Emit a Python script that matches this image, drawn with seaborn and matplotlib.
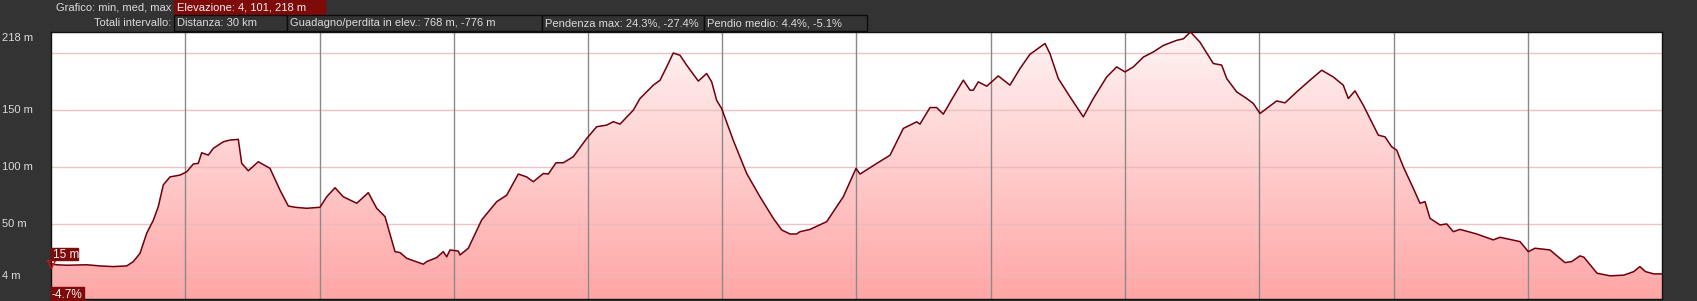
import numpy as np
import matplotlib
matplotlib.use("Agg")
import matplotlib.pyplot as plt
import matplotlib.transforms as mtransforms
from matplotlib.patches import Rectangle
from matplotlib.colors import LinearSegmentedColormap
import seaborn as sns

# ---------------- data ----------------
distance_km = [0.0, 0.106, 0.292, 0.665, 0.912, 1.155, 1.41, 1.533, 1.657, 1.782, 1.905, 1.998,
               2.091, 2.216, 2.402, 2.527, 2.65, 2.743, 2.806, 2.929, 3.022, 3.209, 3.333, 3.488,
               3.551, 3.674, 3.86, 4.078, 4.264, 4.419, 4.544, 4.762, 5.009, 5.134, 5.289, 5.443,
               5.629, 5.693, 5.909, 6.065, 6.22, 6.406, 6.499, 6.624, 6.933, 6.996, 7.182, 7.305,
               7.369, 7.43, 7.585, 7.616, 7.771, 8.02, 8.3, 8.486, 8.702, 8.858, 8.981, 9.168,
               9.261, 9.404, 9.54, 9.726, 9.976, 10.162, 10.348, 10.471, 10.596, 10.844, 10.968,
               11.216, 11.341, 11.465, 11.588, 11.713, 11.838, 12.054, 12.21, 12.303, 12.397,
               12.49, 12.706, 12.955, 13.203, 13.451, 13.607, 13.762, 13.886, 13.948, 14.134,
               14.445, 14.754, 14.991, 15.065, 15.376, 15.624, 15.872, 16.121, 16.182, 16.369,
               16.493, 16.616, 16.803, 16.989, 17.114, 17.175, 17.268, 17.425, 17.641, 17.858,
               18.045, 18.231, 18.51, 18.603, 18.758, 18.976, 19.223, 19.41, 19.659, 19.845,
               20.0, 20.155, 20.341, 20.527, 20.713, 20.963, 21.086, 21.22, 21.397, 21.644,
               21.801, 21.894, 22.08, 22.266, 22.389, 22.514, 22.825, 22.98, 23.197, 23.445,
               23.663, 23.879, 24.065, 24.158, 24.283, 24.438, 24.717, 24.842, 24.966, 25.059,
               25.182, 25.369, 25.493, 25.587, 25.68, 25.866, 25.991, 26.114, 26.238, 26.549,
               26.858, 26.983, 27.356, 27.51, 27.635, 27.914, 28.194, 28.318, 28.473, 28.547,
               28.79, 29.035, 29.287, 29.473, 29.587, 29.693, 29.848, 30.0]
elevation_m = [15, 14, 13.6, 14, 13, 12.4, 13, 16.8, 24, 41.6, 53, 65,
               84, 91, 92.6, 95.5, 102.3, 102.9, 112.2, 110.1, 116, 121.8, 123.3, 123.9,
               102.9, 96.4, 104.3, 98.5, 79.5, 65.5, 64.4, 63.5, 64.4, 73.6, 81.5, 73.6,
               69.3, 67.9, 77.2, 63.5, 56.2, 25.5, 24.7, 19.7, 14.5, 16.8, 20.3, 25.5,
               21, 27, 26, 22.6, 28.5, 53.3, 69.3, 75, 93.5, 91, 86.8, 94,
               93.5, 103.4, 103.4, 108.7, 124.7, 135, 136.4, 139.4, 137.3, 149.5, 159.7,
               171.4, 175.7, 187.4, 199.6, 197.6, 188.9, 175, 181.6, 174.3, 158,
               150.8, 123, 94, 73.6, 54.7, 44.5, 41, 41, 43, 45,
               51.8, 73.6, 98.5, 93.5, 102.8, 110, 133.5, 139.3, 137.3, 151.8,
               151.8, 146, 161.2, 175.8, 167, 167, 174.3, 170.5, 179.5, 171.4,
               186, 198.5, 207.9, 199, 177.2, 161.2, 143.6, 159.7, 178.6, 187.4,
               183, 187.4, 196, 200.5, 206.2, 210.7, 212, 218, 209, 190.4,
               189, 177.2, 165.5, 159.7, 155.4, 146.6, 157.6, 155.9, 165.5, 175.8,
               184.5, 178.6, 171.4, 159.7, 166.4, 153.8, 127.6, 126.1, 117.4, 114.5,
               99.9, 81, 67.9, 69.3, 54.7, 48.9, 49.8, 43, 45, 41,
               35.8, 38.1, 34.3, 25.5, 28.5, 27, 15.9, 16.8, 21.8, 20.6,
               6.6, 4.3, 4.9, 8, 12.4, 8, 6, 6]

ytick_values = [4, 50, 100, 150]
ytick_labels = ["4 m", "50 m", "100 m", "150 m"]
top_value = 218
top_label = "218 m"
grid_y = [4, 50, 100, 150, 200]
grid_x = [2.5, 5, 7.5, 10, 12.5, 15, 17.5, 20, 22.5, 25, 27.5]

row1_label = "Grafico: min, med, max"
row1_box = "Elevazione: 4, 101, 218 m"
row2_label = "Totali intervallo:"
row2_boxes = ["Distanza: 30 km", "Guadagno/perdita in elev.: 768 m, -776 m",
              "Pendenza max: 24.3%, -27.4%", "Pendio medio: 4.4%, -5.1%"]
start_label = "15 m"
slope_label = "-4.7%"

# ---------------- style ----------------
W, H = 1697, 301
BG = "#333333"
TXT = "#dcdcdc"
DARKRED = "#7e0a0a"
LINE = "#6e000c"

sns.set_style("white")
plt.rcParams["font.family"] = ["Liberation Sans", "DejaVu Sans"]

fig = plt.figure(figsize=(W / 100, H / 100), dpi=100, facecolor=BG)


def fx(x):
    return x / W


def fy(y):
    return 1 - y / H


ax = fig.add_axes([fx(51), fy(299), (1662 - 51) / W, (299 - 32) / H])
ax.set_xlim(0, 30)
ax.set_ylim(-16, 218)
ax.set_facecolor("white")

# gradient area under the profile
poly = ax.fill_between(distance_km, elevation_m, -16, color="none", lw=0)
grad = np.linspace(0, 1, 256).reshape(-1, 1)
cmap = LinearSegmentedColormap.from_list("g", ["#ffa6a6", "#fff4f4"])
im = ax.imshow(grad, extent=[0, 30, -16, 218], origin="lower", aspect="auto",
               cmap=cmap, zorder=1, interpolation="bilinear")
im.set_clip_path(poly.get_paths()[0], transform=ax.transData)

for v in grid_y:
    ax.axhline(v, color="#eab9b9", lw=1, alpha=0.85, zorder=2)
for v in grid_x:
    ax.axvline(v, color="#8a8a8a", lw=1, zorder=2)

sns.lineplot(x=distance_km, y=elevation_m, ax=ax, color=LINE, lw=1.1, zorder=3)

ax.set_xticks([])
ax.set_yticks([])
ax.set_xlabel("")
ax.set_ylabel("")
for s in ax.spines.values():
    s.set_color("#111111")
    s.set_linewidth(1)

# y labels
tr = mtransforms.blended_transform_factory(fig.transFigure, ax.transData)
for v, lab in zip(ytick_values, ytick_labels):
    ax.text(fx(2), v, lab, transform=tr, ha="left", va="center",
            color=TXT, fontsize=8, clip_on=False)
ax.text(fx(2), top_value - 1, top_label, transform=tr, ha="left", va="top",
        color=TXT, fontsize=8, clip_on=False)

# start marker and labels inside plot
ax.plot([distance_km[0]], [elevation_m[0]], marker="v", ms=6, mfc="none",
        mec="#d01010", mew=1, clip_on=False, zorder=5)


def boxed(x0, y0, x1, y1, text, face, edge=None, fs=8, tcol="#f0f0f0", pad=3, zorder=6):
    r = Rectangle((fx(x0), fy(y1)), fx(x1) - fx(x0), (y1 - y0) / H,
                  transform=fig.transFigure, facecolor=face,
                  edgecolor=edge if edge else face, lw=1, zorder=zorder)
    fig.add_artist(r)
    fig.text(fx(x0 + pad), fy((y0 + y1) / 2 + 0.5), text, ha="left", va="center",
             color=tcol, fontsize=fs, zorder=zorder + 1)


boxed(51, 248, 78, 260, start_label, DARKRED, fs=8.5, pad=2)
boxed(51, 287, 84, 301, slope_label, DARKRED, fs=8.5, pad=1)

# header
fig.text(fx(171), fy(7), row1_label, ha="right", va="center", color=TXT, fontsize=8)
boxed(174, 0, 325, 14, row1_box, DARKRED, fs=8, pad=3)
fig.text(fx(171), fy(23), row2_label, ha="right", va="center", color=TXT, fontsize=8)
edges = [174, 287, 542, 704, 867]
for i, t in enumerate(row2_boxes):
    boxed(edges[i], 15, edges[i + 1], 31, t, BG, edge="#0c0c0c", fs=8, tcol=TXT, pad=3)

fig.savefig("out.png", dpi=100, facecolor=BG)
